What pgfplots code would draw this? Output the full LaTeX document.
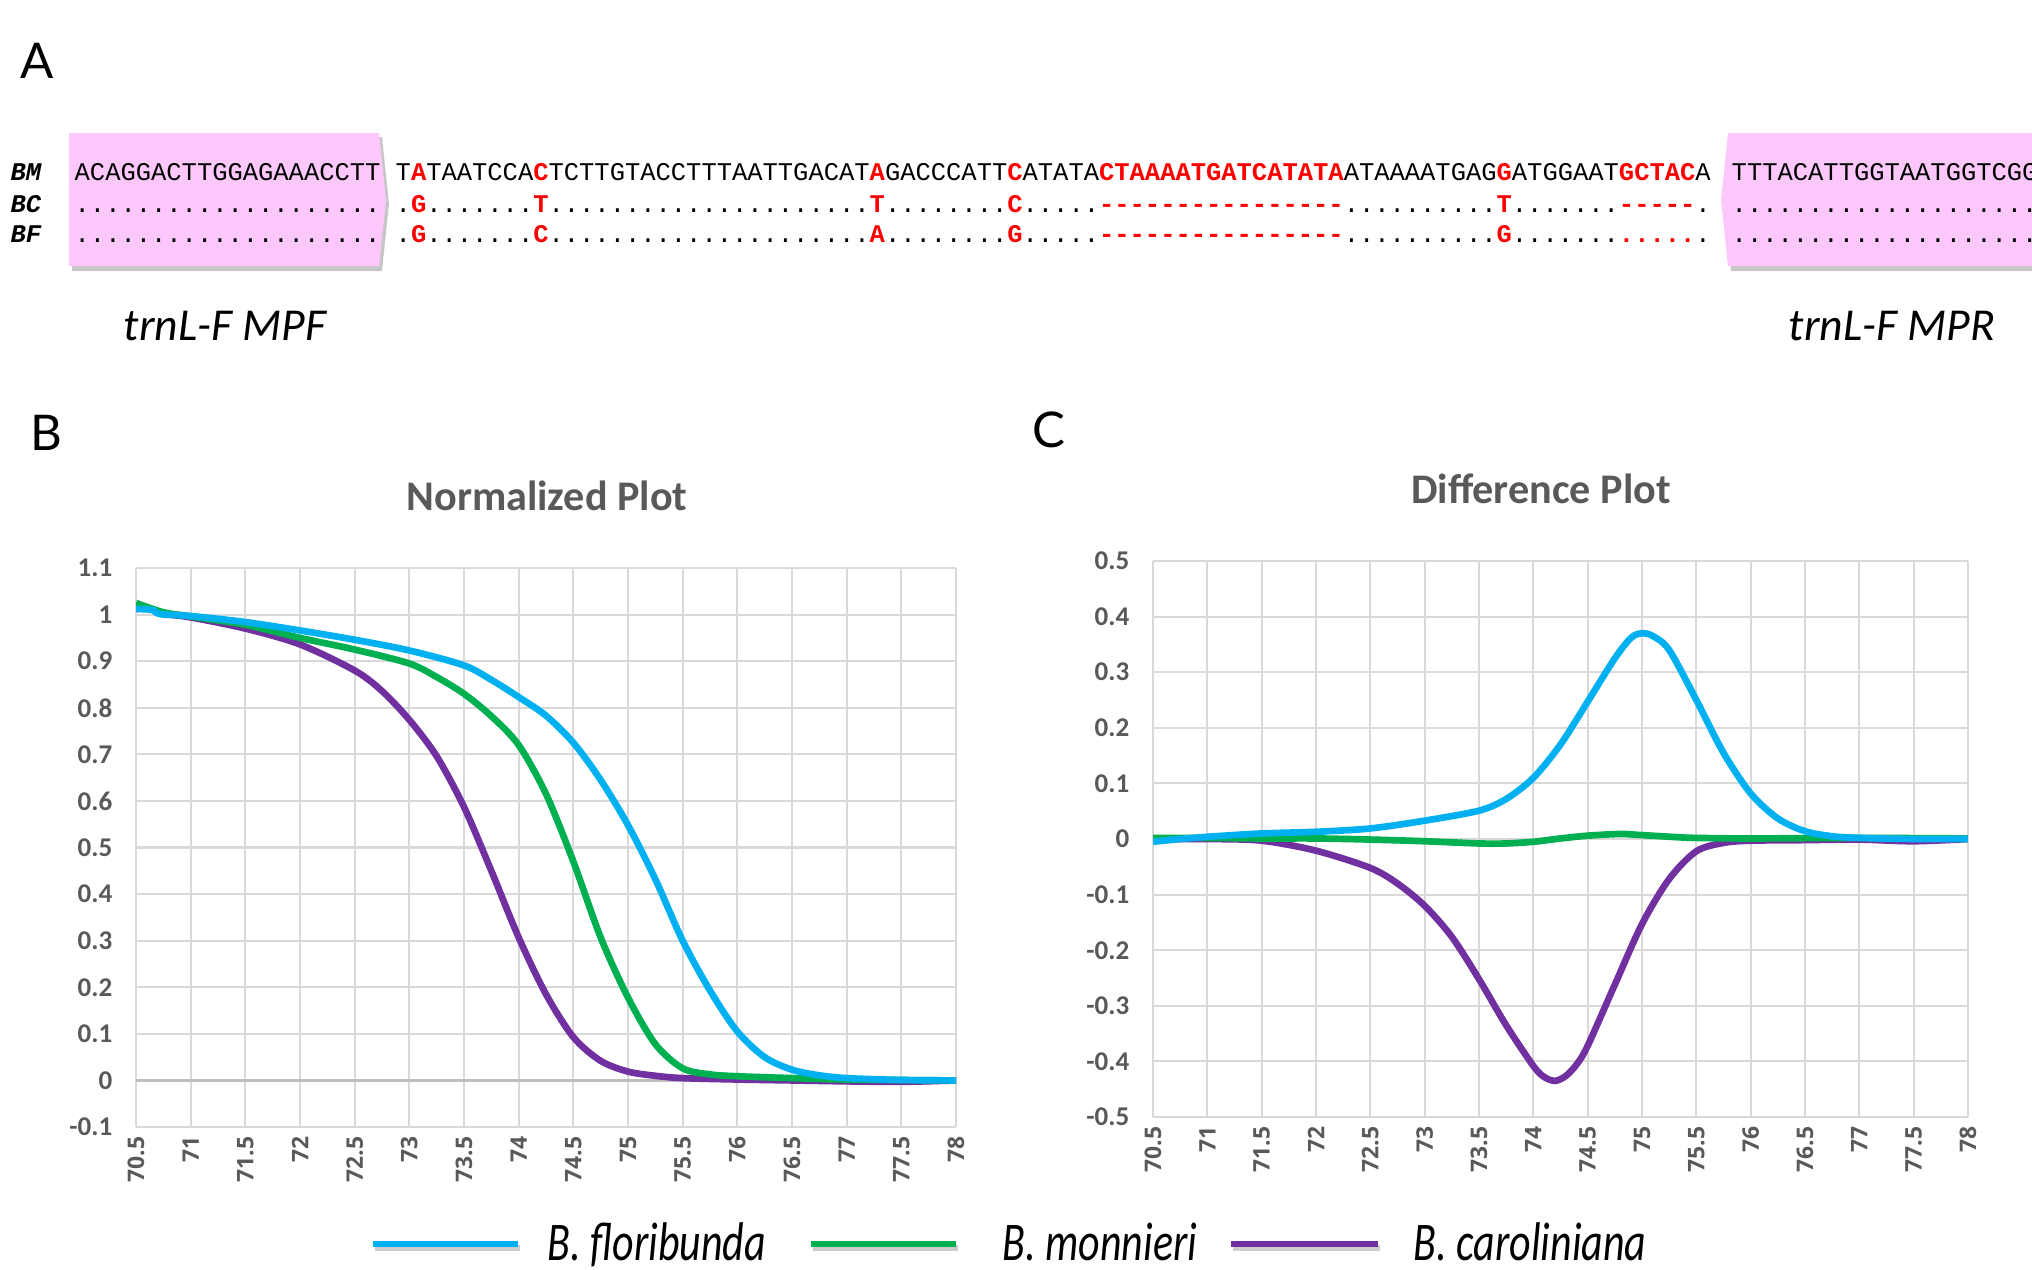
\documentclass[border=0pt]{standalone}
\usepackage{fontspec}
\setmainfont{Carlito}
\setmonofont{Liberation Mono}
\newfontfamily\latofont{Lato}
\newfontfamily\xtickfont{Open Sans}
\usepackage{graphicx}
\usepackage{pgfplots}
\pgfplotsset{compat=1.18}

\definecolor{cblue}{HTML}{00B0F0}
\definecolor{cgreen}{HTML}{00B050}
\definecolor{cpurple}{HTML}{7030A0}
\definecolor{tickgray}{HTML}{595959}
\definecolor{primerpink}{HTML}{FCC8FC}
\definecolor{seqred}{HTML}{FF0000}

\newcommand{\R}[1]{\textcolor{seqred}{\bfseries #1}}
\newcommand{\seqfont}{\ttfamily\fontsize{7.25}{8}\selectfont}
\newcommand{\legfont}{\fontsize{15.5}{16}\selectfont\itshape}

\pgfplotsset{
  meltstyle/.style={
    scale only axis, anchor=south west,
    xmin=70.5, xmax=78,
    xtick={70.5,71,71.5,72,72.5,73,73.5,74,74.5,75,75.5,76,76.5,77,77.5,78},
    grid=major, grid style={draw=gray!30, line width=0.6pt},
    axis line style={draw=none}, major tick length=0pt,
    /pgf/number format/assume math mode=true,
    yticklabel style={font=\fontsize{7.7}{8}\selectfont\bfseries, text=tickgray,
      /pgf/number format/fixed, /pgf/number format/precision=1,
      inner sep=0pt, xshift=-2.3mm},
    xticklabel style={font=\xtickfont\fontsize{6.5}{8}\selectfont\bfseries, text=tickgray,
      rotate=90, anchor=east, inner sep=2.6pt},
    every axis plot/.append style={line width=1.9pt, smooth, no marks},
  }
}

% normalized melt curves
\pgfplotstableread{
t v
70.5 1.012
70.65 1.010
70.72 1.001
71.0 0.997
71.5 0.984
72.0 0.966
72.5 0.946
73.0 0.923
73.5 0.891
73.75 0.860
74.0 0.823
74.25 0.783
74.5 0.725
74.75 0.645
75.0 0.548
75.25 0.432
75.5 0.300
75.75 0.193
76.0 0.105
76.25 0.050
76.5 0.023
76.75 0.011
77.0 0.005
77.5 0.001
78.0 0.000
}\blueN
\pgfplotstableread{
t v
70.5 1.025
70.75 1.005
71.0 0.996
71.5 0.978
72.0 0.950
72.5 0.925
73.0 0.895
73.25 0.866
73.5 0.830
73.75 0.782
74.0 0.720
74.25 0.615
74.5 0.470
74.75 0.307
75.0 0.178
75.25 0.078
75.5 0.026
75.75 0.013
76.0 0.009
76.5 0.005
77.0 0.002
78.0 0.000
}\greenN
\pgfplotstableread{
t v
70.5 1.012
70.62 1.013
70.75 1.002
71.0 0.994
71.5 0.970
72.0 0.936
72.5 0.880
72.75 0.836
73.0 0.774
73.25 0.696
73.5 0.587
73.75 0.450
74.0 0.307
74.25 0.185
74.5 0.093
74.75 0.042
75.0 0.019
75.25 0.010
75.5 0.005
76.0 0.002
76.5 0.000
77.0 -0.002
77.5 -0.003
78.0 0.000
}\purpleN

% difference curves
\pgfplotstableread{
t v
70.5 -0.005
70.75 0.000
71.0 0.004
71.5 0.010
72.0 0.013
72.5 0.019
73.0 0.033
73.5 0.051
73.75 0.072
74.0 0.110
74.25 0.170
74.5 0.247
74.75 0.325
74.9 0.362
75.0 0.370
75.1 0.365
75.25 0.340
75.5 0.250
75.75 0.155
76.0 0.082
76.25 0.037
76.5 0.014
76.75 0.005
77.0 0.002
77.5 0.000
78.0 0.000
}\blueD
\pgfplotstableread{
t v
70.5 0.002
71.0 0.002
71.5 0.001
72.0 0.001
72.5 -0.001
73.0 -0.004
73.5 -0.008
73.75 -0.008
74.0 -0.005
74.25 0.001
74.5 0.006
74.8 0.009
75.0 0.007
75.35 0.003
75.5 0.002
76.0 0.001
77.0 0.002
78.0 0.001
}\greenD
\pgfplotstableread{
t v
70.5 0.000
71.0 0.000
71.5 -0.003
72.0 -0.021
72.5 -0.052
72.75 -0.080
73.0 -0.120
73.25 -0.176
73.5 -0.252
73.75 -0.335
74.0 -0.408
74.1 -0.428
74.2 -0.435
74.3 -0.426
74.4 -0.405
74.5 -0.372
74.75 -0.262
75.0 -0.153
75.25 -0.072
75.5 -0.022
75.75 -0.007
76.0 -0.003
76.5 -0.002
77.0 -0.001
77.5 -0.004
78.0 0.000
}\purpleD

\begin{document}
\begin{tikzpicture}
\useasboundingbox (0,0) rectangle (203.2mm,-126.9mm);

\begin{scope}[x=0.1mm, y=-0.1mm]
  % panel A: primer boxes
  \fill[gray!45] (72,137) -- (382,137) -- (389,204) -- (382,271) -- (72,271) -- cycle;
  \fill[primerpink] (69,133) -- (379,133) -- (386,200) -- (379,266) -- (69,266) -- cycle;
  \fill[gray!45] (1731,137) -- (2040,137) -- (2040,271) -- (1731,271) -- (1724,204) -- cycle;
  \fill[primerpink] (1728,133) -- (2040,133) -- (2040,266) -- (1728,266) -- (1721,200) -- cycle;

  \node[anchor=base west, inner sep=0, font=\latofont\fontsize{14}{16}\selectfont] at (20,78) {A};
  \node[anchor=base west, inner sep=0, font=\latofont\fontsize{14}{16}\selectfont] at (30,450) {B};
  \node[anchor=base west, inner sep=0, font=\latofont\fontsize{14}{16}\selectfont] at (1032,447) {C};

  \foreach \lab/\y in {BM/180, BC/212, BF/242}
    \node[anchor=base west, inner sep=0, font=\seqfont\bfseries\itshape] at (10,\y) {\lab};

  \node[anchor=base west, inner sep=0, font=\seqfont] at (74,180) {ACAGGACTTGGAGAAACCTT};
  \node[anchor=base west, inner sep=0, font=\seqfont] at (74,212) {....................};
  \node[anchor=base west, inner sep=0, font=\seqfont] at (74,242) {....................};

  \node[anchor=base west, inner sep=0, font=\seqfont] at (395,180)
    {T\R{A}TAATCCA\R{C}TCTTGTACCTTTAATTGACAT\R{A}GACCCATT\R{C}ATATA\R{CTAAAATGATCATATA}ATAAAATGAG\R{G}ATGGAAT\R{GCTAC}A};
  \node[anchor=base west, inner sep=0, font=\seqfont] at (395,212)
    {.\R{G}.......\R{T}.....................\R{T}........\R{C}.....\R{----------------}..........\R{T}.......\R{-----}.};
  \node[anchor=base west, inner sep=0, font=\seqfont] at (395,242)
    {.\R{G}.......\R{C}.....................\R{A}........\R{G}.....\R{----------------}..........\R{G}.......\R{.....}.};

  \node[anchor=base west, inner sep=0, font=\seqfont] at (1731,180) {TTTACATTGGTAATGGTCGG};
  \node[anchor=base west, inner sep=0, font=\seqfont] at (1731,212) {....................};
  \node[anchor=base west, inner sep=0, font=\seqfont] at (1731,242) {....................};

  \node[anchor=base west, inner sep=0, font=\fontsize{13}{14}\selectfont\itshape] at (123,340) {trnL-F MPF};
  \node[anchor=base west, inner sep=0, font=\fontsize{13}{14}\selectfont\itshape] at (1788,340) {trnL-F MPR};

  % titles
  \node[font=\fontsize{12}{14}\selectfont\bfseries, text=tickgray] at (547,496) {Normalized Plot};
  \node[font=\fontsize{12}{14}\selectfont\bfseries, text=tickgray] at (1541,489) {Difference Plot};

  % key
  \foreach \a/\b/\c in {373/518/cblue, 811/956/cgreen, 1231/1378/cpurple} {
    \draw[gray!40, line width=1.8pt] (\a+2,1248) -- (\b+2,1248);
    \draw[\c, line width=1.8pt] (\a,1244) -- (\b,1244);
  }
  \node[anchor=base west, inner sep=0, font=\legfont] at (547,1260) {\scalebox{0.77}[1]{B. floribunda}};
  \node[anchor=base west, inner sep=0, font=\legfont] at (1002,1260) {\scalebox{0.77}[1]{B. monnieri}};
  \node[anchor=base west, inner sep=0, font=\legfont] at (1413,1260) {\scalebox{0.77}[1]{B. caroliniana}};
\end{scope}

\begin{axis}[meltstyle,
  at={(13.6mm,-112.7mm)}, width=82mm, height=55.9mm,
  ymin=-0.1, ymax=1.1,
  ytick={-0.1,0,0.1,0.2,0.3,0.4,0.5,0.6,0.7,0.8,0.9,1,1.1},
  extra y ticks={0}, extra y tick labels={},
  extra y tick style={grid style={draw=gray!50, line width=0.9pt}},
]
\addplot[cpurple] table[x=t, y=v] {\purpleN};
\addplot[cgreen] table[x=t, y=v] {\greenN};
\addplot[cblue] table[x=t, y=v] {\blueN};
\end{axis}

\begin{axis}[meltstyle,
  at={(115.3mm,-111.7mm)}, width=81.5mm, height=55.6mm,
  ymin=-0.5, ymax=0.5,
  ytick={-0.5,-0.4,-0.3,-0.2,-0.1,0,0.1,0.2,0.3,0.4,0.5},
]
\addplot[cpurple] table[x=t, y=v] {\purpleD};
\addplot[cgreen] table[x=t, y=v] {\greenD};
\addplot[cblue] table[x=t, y=v] {\blueD};
\end{axis}
\end{tikzpicture}
\end{document}
